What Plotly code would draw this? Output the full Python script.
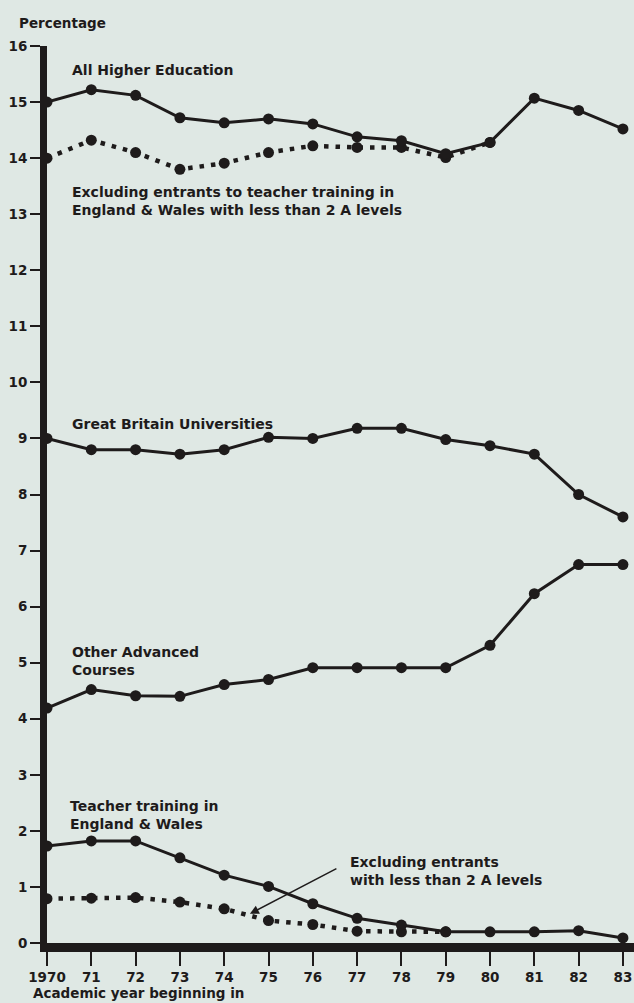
import plotly.graph_objects as go

years = list(range(1970, 1984))
x_tick_labels = ["1970", "71", "72", "73", "74", "75", "76", "77", "78", "79", "80", "81", "82", "83"]

all_he = [15.0, 15.22, 15.12, 14.72, 14.63, 14.7, 14.61, 14.38, 14.31, 14.08, 14.28, 15.07, 14.85, 14.52]
all_he_excl_years = list(range(1970, 1981))
all_he_excl = [14.0, 14.32, 14.1, 13.8, 13.91, 14.1, 14.22, 14.19, 14.19, 14.01, 14.28]

gb_univ = [9.0, 8.8, 8.8, 8.72, 8.8, 9.02, 9.0, 9.18, 9.18, 8.98, 8.87, 8.72, 8.0, 7.6]
other_adv = [4.19, 4.52, 4.41, 4.4, 4.61, 4.7, 4.91, 4.91, 4.91, 4.91, 5.31, 6.23, 6.75, 6.75]

teacher = [1.73, 1.82, 1.82, 1.52, 1.21, 1.01, 0.7, 0.44, 0.32, 0.2, 0.2, 0.2, 0.22, 0.09]
teacher_excl_years = list(range(1970, 1980))
teacher_excl = [0.79, 0.8, 0.81, 0.73, 0.61, 0.4, 0.33, 0.21, 0.2, 0.2]

INK = "#1e1b1b"
BG = "#dfe8e4"
FONT = "DejaVu Sans, Verdana, sans-serif"

fig = go.Figure()

def dotted(xs, ys):
    fig.add_trace(go.Scatter(
        x=xs, y=ys, mode="lines+markers",
        line=dict(color=INK, width=4.5, dash="4.5px,7px"),
        marker=dict(color=INK, size=11),
        cliponaxis=False, showlegend=False, hoverinfo="skip"))

def solid(xs, ys):
    fig.add_trace(go.Scatter(
        x=xs, y=ys, mode="lines+markers",
        line=dict(color=INK, width=3),
        marker=dict(color=INK, size=11),
        cliponaxis=False, showlegend=False, hoverinfo="skip"))

dotted(all_he_excl_years, all_he_excl)
solid(years, all_he)
solid(years, gb_univ)
solid(years, other_adv)
dotted(teacher_excl_years, teacher_excl)
solid(years, teacher)

bold = dict(family=FONT, size=14, color=INK, weight="bold")

labels = [
    (1970.52, 15.57, "All Higher Education"),
    (1970.52, 13.24, "Excluding entrants to teacher training in<br>England & Wales with less than 2 A levels"),
    (1970.52, 9.26, "Great Britain Universities"),
    (1970.52, 5.03, "Other Advanced<br>Courses"),
    (1970.47, 2.28, "Teacher training in<br>England & Wales"),
    (1976.79, 1.28, "Excluding entrants<br>with less than 2 A levels"),
]
for x, y, t in labels:
    fig.add_annotation(x=x, y=y, text=t, showarrow=False, xanchor="left", yanchor="middle",
                       align="left", font=bold)

fig.add_annotation(x=1974.58, y=0.52, ax=88, ay=-46, text="", showarrow=True,
                   arrowhead=2, arrowsize=1.2, arrowwidth=1.5, arrowcolor=INK, standoff=0)

plot_w = 634 - 47
fig.add_annotation(x=(17 - 47) / plot_w, y=1.0, xref="paper", yref="paper", yshift=23,
                   text="Percentage", showarrow=False, xanchor="left", yanchor="middle",
                   font=dict(family=FONT, size=13.5, color=INK, weight="bold"))
fig.add_annotation(x=(31 - 47) / plot_w, y=0, xref="paper", yref="paper", yshift=-50,
                   text="Academic year beginning in", showarrow=False, xanchor="left", yanchor="middle",
                   font=dict(family=FONT, size=13.5, color=INK, weight="bold"))

fig.update_xaxes(range=[1970, 1983.25], tickvals=years, ticktext=x_tick_labels,
                 showgrid=False, zeroline=False, showline=True, linecolor=INK, linewidth=9,
                 ticks="outside", ticklen=14, tickwidth=2, tickcolor=INK,
                 tickfont=dict(family=FONT, size=13.5, color=INK, weight="bold"))
fig.update_yaxes(range=[0, 16], tickvals=list(range(0, 17)),
                 showgrid=False, zeroline=False, showline=True, linecolor=INK, linewidth=7,
                 ticks="outside", ticklen=10, tickwidth=2, tickcolor=INK,
                 tickfont=dict(family=FONT, size=13.5, color=INK, weight="bold"))

fig.update_layout(width=634, height=1003, margin=dict(l=47, r=0, t=46, b=60),
                  paper_bgcolor=BG, plot_bgcolor=BG,
                  font=dict(family=FONT, color=INK, size=14))

fig.write_html("out.html", config={"displayModeBar": False},
               post_script="document.body.style.margin='0';document.body.style.overflow='hidden';")
